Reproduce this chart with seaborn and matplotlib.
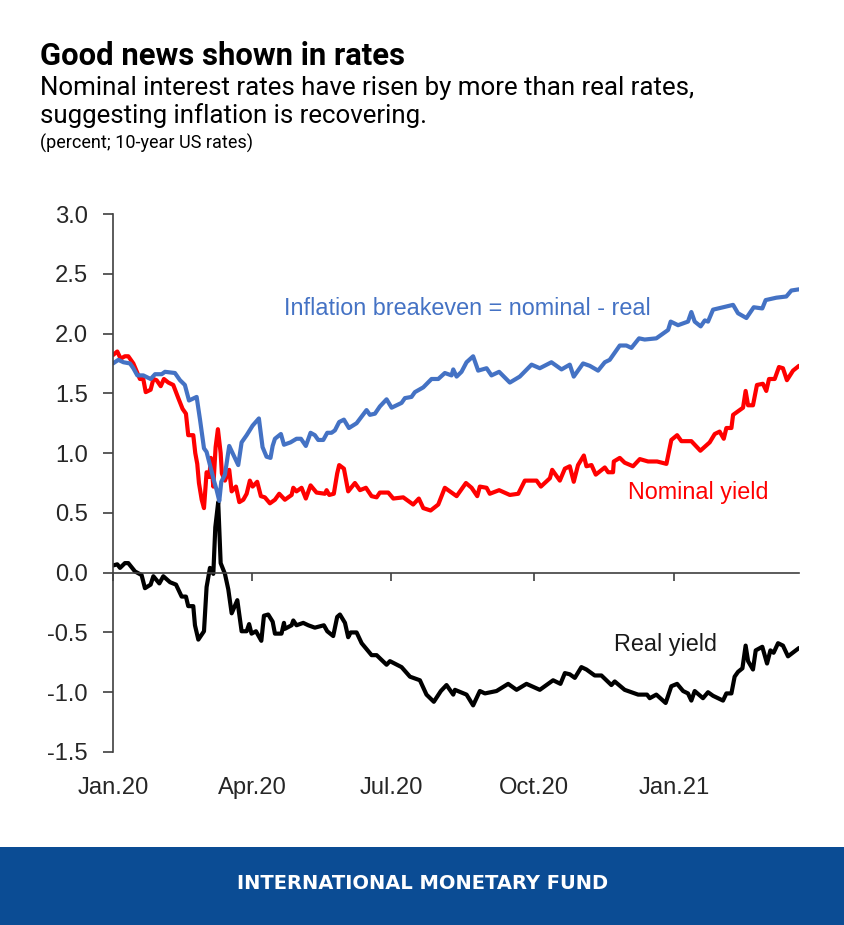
import pandas as pd
import matplotlib
matplotlib.use('Agg')
import matplotlib.pyplot as plt
from matplotlib.patches import Rectangle
import seaborn as sns

# Days since 1 Jan 2020 and yields (percent)
nominal_days = [0, 2.8, 5, 7.8, 10, 13.3, 15.9, 17.6, 19.8, 21.4, 24.6, 26.4, 28.5, 31.2, 33.3, 36.2, 39.4, 42.7,
                45.5, 47.7, 49.2, 52.5, 53.8, 55.1, 56.2, 58, 59.5, 61.2, 63, 64, 65.6, 67.1, 68.6, 70.4, 71.2, 73.2,
                76, 77.6, 80.4, 82.6, 85.2, 87.4, 89.5, 91.3, 94.3, 96.7, 99.3, 102.6, 105.9, 108.7, 112.4, 116.8,
                117.9, 120, 123.3, 126.1, 129.2, 133.1, 138.6, 139.7, 141.4, 144.4, 146.6, 147.9,
                151, 153.8, 158.2, 161.5, 165.4, 169.1, 172.4, 174.5, 180, 183.3, 189.8, 196.3, 200, 202.9, 207.7,
                212.7, 217, 224.7, 230.8, 234.5, 238.2, 239.9, 244.3, 246.4, 252.5, 259.5, 265, 269.3, 277, 279.8,
                285.7, 287.2, 292.2, 295.5, 298.7, 301.3, 304.1, 307.9, 309.6, 312.9, 315.7, 321.6, 323.8, 327, 327.5,
                331.4, 334.6, 340.1, 344.5, 349.9, 355.8, 361.9, 365.1, 368.9, 371.7, 378.2, 384.1, 390.2, 393.5,
                396.7, 399.4, 401.1, 404.4, 405.5, 408.7, 412, 413.7, 415.3, 418.5, 421.1, 425, 427.2, 429, 432.7,
                435.5, 438.1, 440.7, 444.7, 448.6]
nominal_yield = [1.82, 1.85, 1.79, 1.81, 1.81, 1.75, 1.67, 1.62, 1.62, 1.51, 1.53, 1.62, 1.61, 1.56, 1.62, 1.59, 1.57, 1.46,
                 1.37, 1.33, 1.15, 1.15, 1.00, 0.91, 0.75, 0.61, 0.54, 0.84, 0.80, 0.96, 0.72, 1.05, 1.20, 1.00, 0.83, 0.77,
                 0.86, 0.68, 0.72, 0.59, 0.61, 0.66, 0.77, 0.72, 0.76, 0.64, 0.63, 0.58, 0.61, 0.66, 0.61, 0.65,
                 0.71, 0.68, 0.71, 0.62, 0.73, 0.67, 0.66, 0.69, 0.65, 0.66, 0.83, 0.90,
                 0.87, 0.68, 0.75, 0.69, 0.71, 0.64, 0.63, 0.67, 0.67, 0.62, 0.63, 0.57, 0.62, 0.54, 0.52,
                 0.57, 0.71, 0.64, 0.75, 0.71, 0.64, 0.72, 0.71, 0.66, 0.69, 0.65, 0.66, 0.77, 0.77, 0.72,
                 0.79, 0.86, 0.77, 0.87, 0.89, 0.76, 0.90, 0.98, 0.89, 0.90, 0.82, 0.88, 0.84, 0.84, 0.93,
                 0.96, 0.92, 0.89, 0.95, 0.93, 0.93, 0.91, 1.11, 1.15, 1.10, 1.10, 1.02, 1.09, 1.16,
                 1.18, 1.12, 1.21, 1.21, 1.32, 1.35, 1.38, 1.52, 1.40, 1.40, 1.57, 1.58, 1.52, 1.62, 1.62,
                 1.72, 1.71, 1.61, 1.69, 1.73]

breakeven_days = [0, 3.5, 6.8, 11.1, 13.3, 15.9, 19.8, 24.6, 27.5, 31.8, 34, 40.5, 43.8, 47, 49.7, 54.7, 56.9, 59.5,
                  61.2, 63.4, 66, 67.8, 69.5, 70.8, 73.2, 76, 81.9, 84.1, 87.4, 91.3, 95.4, 97.8, 100.4, 103, 104.4,
                  105.9, 109.8, 111.8, 116.1, 120, 122.9, 126.1, 129.2, 132, 134.2, 137.5, 140.1, 142.9, 145.1, 147.9,
                  151, 154.3, 159.3, 165.8, 168, 171.3, 174.5, 178.9, 182.2, 188.7, 190.9, 195.2, 197.4, 202.9, 208.3,
                  212.7, 217, 221.4, 222.5, 224.7, 227.9, 231.2, 235.5, 238.8, 244.3, 247.5, 252.5, 259.5, 266, 273.7,
                  279.1, 286.7, 293.3, 298.7, 301.3, 307.4, 311.8, 317.2, 321.6, 324.8, 331.4, 335.7, 339, 344, 347.7,
                  355.3, 363, 364.7, 369.5, 376, 378.2, 380.4, 384.3, 387, 389.1, 392.4, 399, 405.5, 408.7, 414.2,
                  419, 424.6, 426.8, 433.8, 440.3, 443.6, 448.6]
breakeven = [1.75, 1.78, 1.76, 1.75, 1.71, 1.65, 1.65, 1.62, 1.66, 1.66, 1.68, 1.67, 1.61, 1.57, 1.44, 1.47, 1.28, 1.04,
             1.01, 0.90, 0.77, 0.69, 0.60, 0.76, 0.82, 1.06, 0.90, 1.09, 1.15, 1.23, 1.29, 1.05, 0.97, 0.96, 1.06,
             1.12, 1.16, 1.07, 1.09, 1.12, 1.12, 1.06, 1.17, 1.15, 1.11, 1.11, 1.17, 1.17, 1.19, 1.26,
             1.28, 1.21, 1.25, 1.36, 1.32, 1.33, 1.39, 1.45, 1.38, 1.42, 1.46, 1.47, 1.51, 1.55, 1.62,
             1.62, 1.67, 1.65, 1.70, 1.64, 1.68, 1.76, 1.81, 1.69, 1.71, 1.65, 1.68, 1.59, 1.64, 1.74,
             1.71, 1.76, 1.70, 1.74, 1.64, 1.75, 1.73, 1.69, 1.76, 1.78, 1.90, 1.90, 1.88, 1.96, 1.95,
             1.96, 2.03, 2.10, 2.07, 2.10, 2.18, 2.10, 2.06, 2.11, 2.10, 2.20, 2.22, 2.24, 2.17, 2.13,
             2.22, 2.21, 2.28, 2.30, 2.31, 2.36, 2.37]

real_days = [0, 2.8, 4.6, 7.8, 10, 14.4, 18.7, 20.9, 24.6, 26.4, 30.3, 32.9, 37.3, 41.2, 44.9, 47.7, 49.2, 52.5, 53.6,
             55.8, 59.5, 61.2, 63.4, 65.6, 66.9, 68.8, 70.4, 73.2, 75.4, 77.6, 81.3, 84.1, 87.4, 89, 90.6, 93.5, 97,
             98.7, 101.5, 104.4, 105.9, 110.2, 111.8, 112.4, 116.8, 117.9, 120, 124.4, 127.7, 132, 137.9, 140.1, 144,
             146.6, 148.4, 151.7, 153.8, 155.4, 159.3, 162.6, 169.1, 172.4, 178.9, 181.1, 188.7, 194.2, 200.7, 205,
             209.8, 214.4, 218.1, 222.5, 223.6, 231.2, 235.5, 239.9, 243.2, 250.8, 258.4, 263.9, 270.4, 279.1, 287.8,
             292.6, 295.5, 298.7, 302, 306.3, 309.6, 315, 319.4, 325.9, 328.1, 334.6, 343.4, 349.2, 351, 355.3, 361.4,
             365.1, 368.9, 372.8, 376, 378.2, 380.4, 385.8, 389.1, 392.4, 398.9, 401.1, 404.4, 406.5, 408.7, 411.6,
             413.7, 415.3, 418.5, 420.3, 424.6, 427.7, 429.9, 432, 434.9, 438.1, 441.4, 448.6]
real_yield = [0.06, 0.07, 0.04, 0.08, 0.08, 0.01, -0.02, -0.13, -0.10, -0.03, -0.09, -0.03, -0.08, -0.10, -0.20, -0.20, -0.28, -0.28, -0.44,
              -0.56, -0.49, -0.12, 0.04, -0.01, 0.38, 0.59, 0.08, -0.01, -0.14, -0.34, -0.23, -0.49, -0.49, -0.43, -0.51, -0.49, -0.57,
              -0.36, -0.35, -0.41, -0.51, -0.51, -0.42, -0.47, -0.44, -0.40, -0.44, -0.42, -0.44, -0.46, -0.44, -0.49, -0.53,
              -0.37, -0.35, -0.42, -0.54, -0.50, -0.50, -0.59, -0.69, -0.69, -0.77, -0.74, -0.79, -0.87, -0.90, -1.02,
              -1.08, -0.99, -0.94, -1.02, -0.98, -1.02, -1.11, -0.99, -1.01, -0.99, -0.93, -0.98, -0.93, -0.98, -0.90,
              -0.93, -0.84, -0.85, -0.88, -0.79, -0.81, -0.86, -0.86, -0.94, -0.91, -0.98, -1.02, -1.02, -1.05, -1.02, -1.09,
              -0.95, -0.93, -0.99, -1.01, -1.07, -0.99, -1.05, -1.00, -1.03, -1.07, -1.01, -1.01, -0.87, -0.83, -0.80,
              -0.61, -0.74, -0.81, -0.65, -0.62, -0.76, -0.65, -0.67, -0.59, -0.61, -0.70, -0.63]

# first trading day of each quarter, as the source axis places them
tick_dates = ['2020-01-01', '2020-04-01', '2020-07-01', '2020-10-02', '2021-01-02']
tick_labels = ['Jan.20', 'Apr.20', 'Jul.20', 'Oct.20', 'Jan.21']
y_ticks = [3.0, 2.5, 2.0, 1.5, 1.0, 0.5, 0.0, -0.5, -1.0, -1.5]

start = pd.Timestamp('2020-01-01')


def to_dates(days):
    return start + pd.to_timedelta(days, unit='D')


W, H = 844, 925
sns.set_theme(style='white')
plt.rcParams['font.family'] = ['Liberation Sans', 'DejaVu Sans']

fig = plt.figure(figsize=(W / 100, H / 100), dpi=100, facecolor='white')
ax = fig.add_axes([113 / W, 1 - 752 / H, (799 - 113) / W, (752 - 214) / H])

sns.lineplot(x=to_dates(nominal_days), y=nominal_yield, color='#ff0000', lw=3, ax=ax, sort=False, estimator=None)
sns.lineplot(x=to_dates(real_days), y=real_yield, color='#000000', lw=3, ax=ax, sort=False, estimator=None)
sns.lineplot(x=to_dates(breakeven_days), y=breakeven, color='#4472c4', lw=3, ax=ax, sort=False, estimator=None)

ax.set_xlim(start, start + pd.Timedelta(days=448.6))
ax.set_ylim(-1.5, 3.0)
ax.set_xlabel('')
ax.set_ylabel('')

sns.despine(ax=ax)
ax.spines['bottom'].set_position(('data', 0))
ax.spines['bottom'].set_color('#404040')
ax.spines['left'].set_color('#404040')
ax.spines['bottom'].set_linewidth(1.2)
ax.spines['left'].set_linewidth(1.2)

ax.set_xticks(pd.to_datetime(tick_dates))
ax.set_xticklabels(tick_labels)
ax.set_yticks(y_ticks)
ax.set_yticklabels([f'{v:.1f}' for v in y_ticks])
ax.tick_params(axis='x', bottom=True, direction='out', length=6, width=1.2, color='#404040', pad=141,
               labelsize=17.1, labelcolor='#262626')
ax.tick_params(axis='y', left=True, direction='out', length=7.2, width=1.2, color='#404040', pad=10.8,
               labelsize=17.1, labelcolor='#262626')

# Direct series labels
fig.text(284 / W, 1 - 309 / H, 'Inflation breakeven = nominal - real', color='#4472c4', fontsize=16.8, va='center')
fig.text(628 / W, 1 - 493 / H, 'Nominal yield', color='#ff0000', fontsize=16.8, va='center')
fig.text(614 / W, 1 - 645 / H, 'Real yield', color='#1a1a1a', fontsize=16.8, va='center')

# Heading block
fig.text(40 / W, 1 - 65 / H, 'Good news shown in rates', family='Roboto', weight='bold', fontsize=22.3,
         color='black', va='baseline')
fig.text(40 / W, 1 - 95 / H, 'Nominal interest rates have risen by more than real rates,', family='Roboto',
         fontsize=18.6, color='black', va='baseline')
fig.text(40 / W, 1 - 123 / H, 'suggesting inflation is recovering.', family='Roboto', fontsize=18.6,
         color='black', va='baseline')
fig.text(40 / W, 1 - 149 / H, '(percent; 10-year US rates)', family='Roboto', fontsize=12.95, color='black',
         va='baseline')

# Footer band
fig.add_artist(Rectangle((0, 0), 1, (925 - 847) / H, transform=fig.transFigure, color='#0b4c94', lw=0))
fig.text(423 / W, 1 - 889 / H, 'INTERNATIONAL MONETARY FUND', family='DejaVu Sans', weight='bold', fontsize=14.05,
         color='white', ha='center', va='baseline')

fig.savefig('out.png', dpi=100)
plt.close(fig)
